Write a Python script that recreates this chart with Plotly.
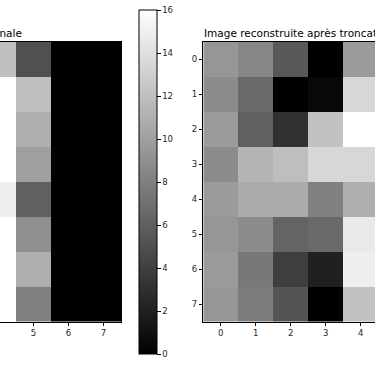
import plotly.graph_objects as go

# ---- data ----
rows = [0, 1, 2, 3, 4, 5, 6, 7]
orig_cols = [4, 5, 6, 7]
orig_values = [
    [12, 5, 0, 0],
    [16, 12, 0, 0],
    [16, 11, 0, 0],
    [16, 10, 0, 0],
    [15, 6, 0, 0],
    [16, 9, 0, 0],
    [16, 11, 0, 0],
    [16, 8, 0, 0],
]
recon_cols = [0, 1, 2, 3, 4]
recon_values = [
    [9.4, 8.5, 5.5, -0.3, 9.7],
    [8.8, 6.6, -0.5, 0.5, 13.5],
    [9.7, 6.0, 3.1, 12.2, 16.4],
    [8.8, 11.3, 11.9, 13.5, 13.5],
    [9.7, 10.7, 10.7, 8.0, 11.0],
    [9.4, 8.8, 6.3, 6.6, 14.6],
    [9.7, 7.5, 3.9, 2.0, 15.0],
    [9.4, 7.8, 5.3, -0.2, 12.2],
]
cbar_ticks = [0, 2, 4, 6, 8, 10, 12, 14, 16]
title_left = "Image originale"
title_right = "Image reconstruite après troncature (2 composantes)"

W, H = 375, 366
def px(x):
    return x / W
def py(y):
    return (H - y) / H

gray = [[0, "rgb(0,0,0)"], [1, "rgb(255,255,255)"]]
font = "DejaVu Sans"
tc = "#262626"

fig = go.Figure()
fig.add_trace(go.Heatmap(
    z=orig_values, x=orig_cols, y=rows, colorscale=gray, zmin=0, zmax=16,
    xaxis="x", yaxis="y", hoverinfo="skip",
    colorbar=dict(
        thickness=18, thicknessmode="pixels", len=344, lenmode="pixels",
        x=px(139), xanchor="left", xpad=0, y=py(10), yanchor="top", ypad=0,
        outlinewidth=1, outlinecolor="black", ticks="outside", ticklen=3.5,
        tickwidth=0.8, tickcolor="black", tickvals=cbar_ticks,
        tickfont=dict(family=font, size=8.5, color=tc),
    ),
))
fig.add_trace(go.Heatmap(
    z=recon_values, x=recon_cols, y=rows, colorscale=gray, zmin=0, zmax=16,
    xaxis="x2", yaxis="y2", showscale=False, hoverinfo="skip",
))

ydom = [py(321.7), py(41.7)]
axis_common = dict(showgrid=False, zeroline=False, showline=True, linecolor="black",
                   linewidth=1, ticks="outside", ticklen=3.5, tickwidth=0.8,
                   tickcolor="black", tickfont=dict(family=font, size=8.5, color=tc))

fig.update_layout(
    width=W, height=H, margin=dict(l=0, r=0, t=0, b=0),
    paper_bgcolor="white", plot_bgcolor="white", showlegend=False,
    xaxis=dict(domain=[0, px(121)], range=[4.043, 7.5], tickvals=orig_cols,
               mirror=True, anchor="y", **axis_common),
    yaxis=dict(domain=ydom, range=[7.5, -0.5], side="right", showticklabels=False,
               anchor="x", **{**axis_common, "ticks": ""}),
    xaxis2=dict(domain=[px(203.3), 1], range=[-0.5, 4.406], tickvals=recon_cols,
                mirror=True, anchor="y2", **axis_common),
    yaxis2=dict(domain=ydom, range=[7.5, -0.5], tickvals=rows, anchor="x2",
                **axis_common),
    annotations=[
        dict(text=title_left, x=px(-19), y=py(41), xref="paper", yref="paper",
             xanchor="center", yanchor="bottom", showarrow=False,
             font=dict(family=font, size=10.5, color="black")),
        dict(text=title_right, x=px(201.5), y=py(41), xref="paper", yref="paper",
             xanchor="left", yanchor="bottom", showarrow=False,
             font=dict(family=font, size=10.5, color="black")),
    ],
)

fig.write_html("out.html", config={"displayModeBar": False},
               post_script="document.body.style.margin='0';document.body.style.overflow='hidden';")
